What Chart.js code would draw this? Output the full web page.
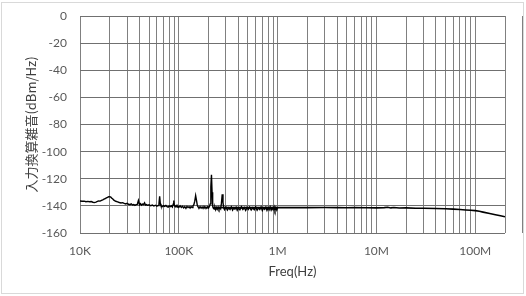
<!DOCTYPE html>
<html>
<head>
<meta charset="utf-8">
<script src="https://cdn.jsdelivr.net/npm/chart.js@4.4.1/dist/chart.umd.min.js"></script>
<style>
  html, body { margin: 0; padding: 0; background: #fff; }
  #wrap { width: 526px; height: 296px; }
</style>
</head>
<body>
<div id="wrap"><canvas id="myChart" width="526" height="296"></canvas></div>
<script>
// low band measurement, freq in kHz
var lowFreq = [10,10.5,11,11.5,12,12.5,13,13.5,14,14.5,15,15.5,16,16.5,17,17.5,18,18.5,19,19.5,
  20,20.5,21,21.5,22,23,24,25,26,27,28,29,30,31,32,33,34,35,36,37,38,39,40,41,42,43,44,45,46,47,48,
  50,52,54,56,58,60,62,63,64,65,66,68,70,72,74,76,78,80,82,84,86,88,89,90,92,94,96,98,100,
  103,106,109,112,115,118,121,124,127,130,133,136,139,142,145,148,151,154,157,160,164,168,172,176,
  180,184,188,192,196,200,204,208,211,214,217,220,224,228,232,236,240,245,250,255,260,265,270,275,
  280,285,290,300,310,320,330,340,350,360,370,380,390,400,415,430,445,460,475,490,505,520,540,560,
  580,600,620,640,660,680,700,720,740,760,780,800,820,840,860,880,900,920,940,960,980,1000];
var lowNoise = [-136.4,-136.6,-136.5,-136.9,-136.7,-137.0,-136.8,-137.3,-137.6,-137.2,-136.7,-136.3,-136.5,-136.0,-135.6,-135.1,-134.6,-134.1,-133.7,-133.3,
  -133.2,-133.6,-134.3,-135.0,-135.8,-136.6,-137.0,-137.5,-137.9,-137.6,-138.2,-138.6,-138.1,-138.8,-139.1,-138.5,-139.3,-139.0,-139.6,-139.1,-138.9,-136.0,-139.2,-138.4,-139.5,-138.7,-139.0,-137.8,-139.4,-139.0,-139.6,
  -139.2,-139.9,-139.4,-140.1,-139.5,-140.2,-139.7,-138.0,-133.0,-138.5,-140.0,-140.6,-139.8,-140.4,-139.7,-140.5,-140.9,-140.1,-140.6,-139.9,-140.8,-138.5,-136.0,-139.6,-140.7,-139.8,-140.9,-140.2,-141.1,
  -140.0,-141.2,-140.3,-141.5,-140.6,-141.8,-140.4,-141.3,-140.7,-141.6,-140.5,-141.2,-140.1,-139.2,-136.5,-132.5,-136.0,-139.8,-140.9,-141.5,-140.6,-141.7,-140.8,-141.9,
  -140.5,-141.4,-140.9,-141.8,-140.7,-141.5,-140.4,-138.5,-126.0,-117.0,-130.0,-140.2,-141.6,-142.3,-141.0,-142.8,-141.2,-142.5,-140.9,-142.6,-141.3,-142.2,-138.0,-131.5,
  -137.5,-141.6,-142.8,-140.9,-143.0,-141.4,-142.6,-140.8,-143.1,-141.5,-142.4,-141.0,-143.2,-141.6,-142.9,-140.7,-142.7,-141.3,-143.3,-141.2,-142.6,-140.9,-143.0,-141.4,
  -142.8,-140.8,-143.2,-141.5,-142.7,-140.9,-143.4,-141.6,-142.5,-141.0,-143.3,-141.4,-142.9,-140.8,-143.1,-141.5,-142.8,-140.7,-143.5,-141.3,-143.0,-141.3];

// high band measurement, freq in MHz
var highFreq = [0.22,0.3,0.5,1,2,3,4,5,6,8,10,12,13,14,15,17,20,25,30,40,50,60,70,80,90,100,110,120,140,160,180,200];
var highNoise = [-141.2,-141.3,-141.3,-141.3,-141.3,-141.2,-141.3,-141.4,-141.2,-141.4,-141.5,-141.3,-141.0,-141.5,-141.2,-141.6,
  -141.5,-141.7,-141.8,-141.9,-142.1,-142.4,-142.7,-143.0,-143.2,-143.5,-144.0,-144.6,-145.6,-146.5,-147.3,-148.0];

var xTickValues = [1e4, 1e5, 1e6, 1e7, 1e8];
var xTickLabels = ['10K', '100K', '1M', '10M', '100M'];
var yMin = -160, yMax = 0, yStep = 20;

var lowData = lowFreq.map(function (f, i) { return { x: f * 1e3, y: lowNoise[i] }; });
var highData = highFreq.map(function (f, i) { return { x: f * 1e6, y: highNoise[i] }; });

var frame = {
    id: 'frame',
    beforeDraw: function (chart) {
        var c = chart.ctx;
        c.save();
        c.fillStyle = '#fff';
        c.fillRect(0, 0, chart.width, chart.height);
        c.strokeStyle = '#d9d9d9';
        c.lineWidth = 1;
        c.strokeRect(1.5, 2.5, 522, 291);
        c.restore();
    }
};

var ctx = document.getElementById('myChart');
var myChart = new Chart(ctx, {
    type: 'line',
    data: {
        datasets: [{
            label: 'low',
            data: lowData,
            borderColor: '#000',
            borderWidth: 1.4,
            pointRadius: 0,
            tension: 0
        }, {
            label: 'high',
            data: highData,
            borderColor: '#000',
            borderWidth: 1.6,
            pointRadius: 0,
            tension: 0
        }]
    },
    options: {
        responsive: false,
        animation: false,
        layout: { padding: { top: 16, right: 21, bottom: 0, left: 0 } },
        plugins: { legend: { display: false }, tooltip: { enabled: false } },
        scales: {
            x: {
                type: 'logarithmic',
                min: 1e4,
                max: 2e8,
                afterBuildTicks: function (axis) {
                    var t = [];
                    for (var d = 1e4; d <= 1e8; d *= 10) {
                        for (var m = 1; m <= 9; m++) t.push({ value: d * m });
                    }
                    t.push({ value: 2e8 });
                    axis.ticks = t;
                },
                afterFit: function (axis) {
                    axis.height = 63;
                    axis.paddingLeft = 0;
                    axis.paddingRight = 0;
                },
                grid: { color: '#808080', lineWidth: 1, drawTicks: false },
                border: { display: false },
                ticks: {
                    autoSkip: false,
                    maxRotation: 0,
                    padding: 11,
                    color: '#595959',
                    font: { family: 'Lato', size: 12 },
                    callback: function (v) {
                        var i = xTickValues.indexOf(v);
                        return i >= 0 ? xTickLabels[i] : '';
                    }
                },
                title: {
                    display: true,
                    text: 'Freq(Hz)',
                    color: '#404040',
                    font: { family: 'Lato', size: 13 },
                    padding: { top: 0, bottom: 16 }
                }
            },
            y: {
                min: yMin,
                max: yMax,
                afterFit: function (axis) {
                    axis.width = 80;
                    axis.paddingTop = 0;
                    axis.paddingBottom = 0;
                },
                grid: { color: '#707070', lineWidth: 1, drawTicks: false },
                border: { display: false },
                ticks: {
                    stepSize: yStep,
                    padding: 13,
                    color: '#595959',
                    font: { family: 'Lato', size: 12 }
                },
                title: {
                    display: true,
                    text: '入力換算雑音(dBm/Hz)',
                    color: '#404040',
                    font: { family: "'Noto Sans CJK JP'", size: 13 },
                    padding: { top: 23, bottom: 0 }
                }
            }
        }
    },
    plugins: [frame]
});
</script>
</body>
</html>
